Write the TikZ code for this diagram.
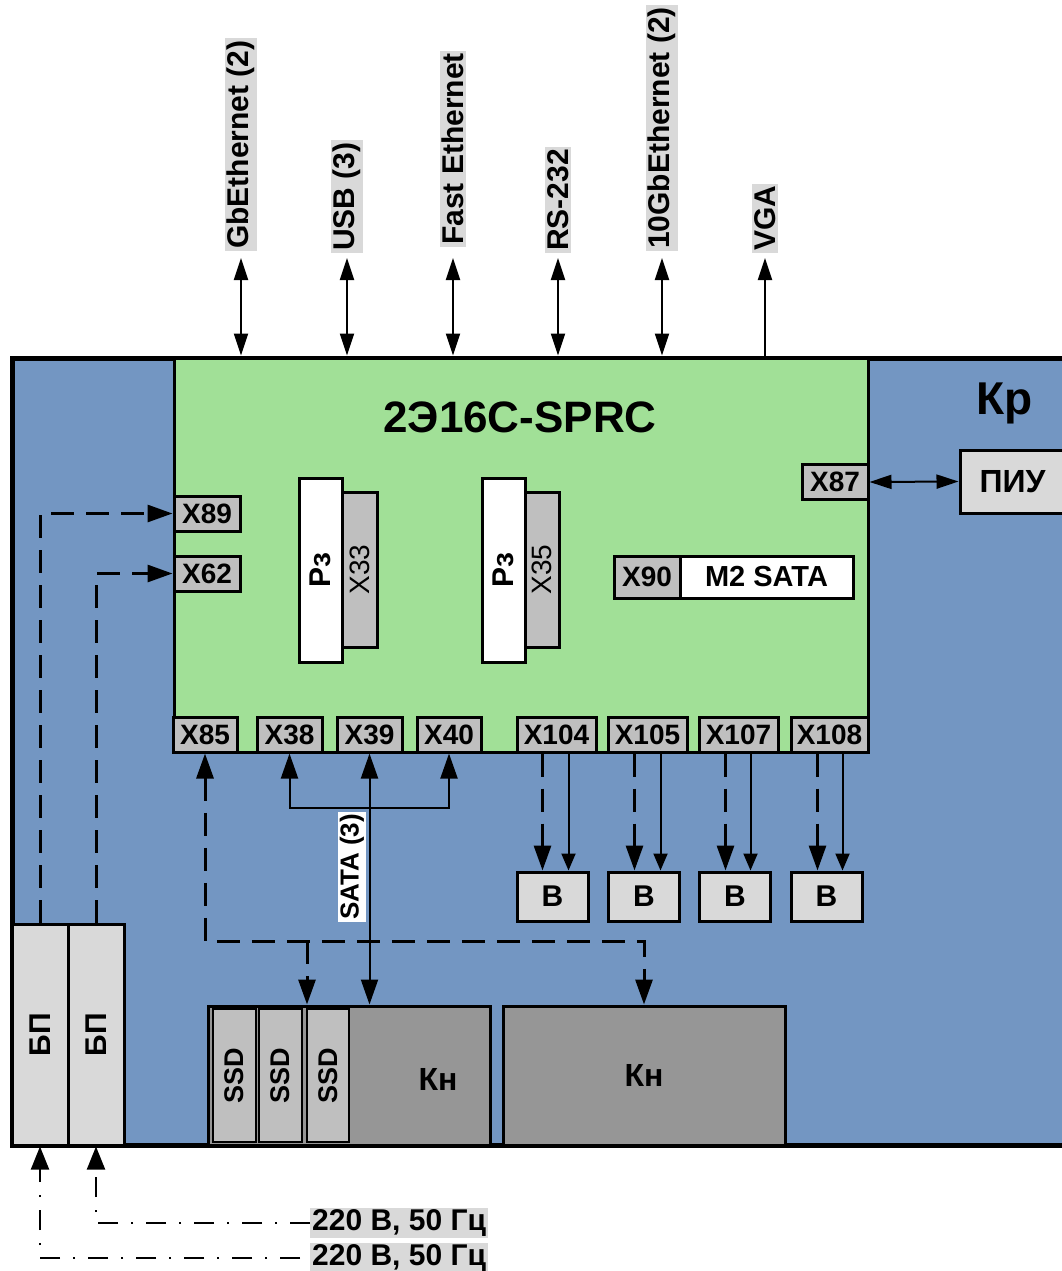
\documentclass[tikz,border=0pt]{standalone}
\usepackage{fontspec}
\setmainfont{Liberation Sans}
\usepackage{graphicx}
\usepackage{xcolor}
\usepackage{tikz}
\usetikzlibrary{arrows.meta}

\definecolor{krblue}{RGB}{115,150,194}
\definecolor{boardgreen}{RGB}{161,224,151}
\definecolor{conngray}{RGB}{191,191,191}
\definecolor{unitgray}{RGB}{217,217,217}
\definecolor{drivegray}{RGB}{150,150,150}

\begin{document}
\begin{tikzpicture}[
    x=1pt, y=-1pt,
    box/.style={draw=black, line width=3pt, inner sep=0pt, align=center},
    krframe/.style={draw=black, line width=5pt, fill=krblue, inner sep=0pt},
    boardbox/.style={box, fill=boardgreen},
    conn/.style={box, fill=conngray, minimum height=35pt, font=\fontsize{28}{28}\selectfont\bfseries},
    vconn/.style={box, fill=conngray, font=\fontsize{28}{28}\selectfont},
    chipbox/.style={box, fill=white, font=\fontsize{30}{30}\selectfont\bfseries},
    unitbox/.style={box, fill=unitgray, font=\fontsize{30}{30}\selectfont\bfseries},
    ssdbox/.style={box, fill=conngray, line width=2.5pt, font=\fontsize{27}{27}\selectfont\bfseries},
    drivebox/.style={box, fill=drivegray, font=\fontsize{32}{32}\selectfont\bfseries},
    portlabel/.style={rotate=90, anchor=west, fill=unitgray, inner sep=2pt, font=\fontsize{30}{30}\selectfont\bfseries},
    powerlabel/.style={anchor=west, fill=unitgray, inner sep=2pt, font=\fontsize{30}{30}\selectfont\bfseries},
    link/.style={line width=2pt, >={Triangle[length=22pt,width=14pt]}},
    thinlink/.style={line width=2pt, >={Triangle[length=17pt,width=14pt]}},
    biglink/.style={line width=2pt, >={Triangle[length=25pt,width=17pt]}},
    ctrllink/.style={line width=3pt, dash pattern=on 23pt off 12pt, >={Triangle[length=25pt,width=17pt]}},
    powerlink/.style={line width=2pt, dash pattern=on 20pt off 13pt on 2pt off 13pt, >={Triangle[length=23pt,width=18pt]}}
]
    \useasboundingbox (0,0) rectangle (1062,1271);
    \clip (0,0) rectangle (1062,1271);

    % Chassis and front panel
    \node[krframe, minimum width=1063pt, minimum height=787pt] (kr) at (543.5,751.5) {};
    \node[font=\fontsize{46}{46}\selectfont\bfseries] (krname) at (1005,403) {Кр};
    \node[unitbox, minimum width=105pt, minimum height=63pt, font=\fontsize{32}{32}\selectfont\bfseries] (piu) at (1012.5,481.5) {ПИУ};

    % Board
    \node[boardbox, minimum width=694pt, minimum height=394pt] (board) at (521,555) {};
    \node[font=\fontsize{44}{44}\selectfont\bfseries] (boardname) at (520,417) {2Э16С-SPRC};

    % Board connectors
    \node[conn, minimum width=66pt] (x89) at (207,513.5) {X89};
    \node[conn, minimum width=66pt] (x62) at (207,573.5) {X62};
    \node[conn, minimum width=66pt] (x87) at (835,482) {X87};
    \node[conn, minimum width=64pt] (x85) at (205,734.5) {X85};
    \node[conn, minimum width=65pt] (x38) at (289.5,734.5) {X38};
    \node[conn, minimum width=65pt] (x39) at (369.5,734.5) {X39};
    \node[conn, minimum width=64pt] (x40) at (449,734.5) {X40};
    \node[conn, minimum width=79pt] (x104) at (556.5,734.5) {X104};
    \node[conn, minimum width=79pt] (x105) at (647.5,734.5) {X105};
    \node[conn, minimum width=79pt] (x107) at (738.5,734.5) {X107};
    \node[conn, minimum width=77pt] (x108) at (829.5,734.5) {X108};

    % Processors in their sockets
    \node[vconn, minimum width=35pt, minimum height=155pt] (x33) at (359.5,569.5) {\rotatebox{90}{X33}};
    \node[chipbox, minimum width=43pt, minimum height=184pt] (cpu1) at (320.5,570) {\rotatebox{90}{Рз}};
    \node[vconn, minimum width=34pt, minimum height=155pt] (x35) at (542,569.5) {\rotatebox{90}{X35}};
    \node[chipbox, minimum width=43pt, minimum height=184pt] (cpu2) at (503.5,570) {\rotatebox{90}{Рз}};

    % M2 slot
    \node[conn, minimum width=66pt, minimum height=42pt] (x90) at (647,577) {X90};
    \node[box, fill=white, minimum width=173pt, minimum height=42pt, font=\fontsize{29}{29}\selectfont\bfseries] (m2) at (766.5,577) {M2 SATA};

    % Fans
    \node[unitbox, minimum width=71pt, minimum height=49pt] (b1) at (552.5,896.5) {В};
    \node[unitbox, minimum width=71pt, minimum height=49pt] (b2) at (644,896.5) {В};
    \node[unitbox, minimum width=71pt, minimum height=49pt] (b3) at (735,896.5) {В};
    \node[unitbox, minimum width=71pt, minimum height=49pt] (b4) at (826.5,896.5) {В};

    % Power supplies
    \node[unitbox, minimum width=56pt, minimum height=221pt] (bp1) at (40,1034.5) {\rotatebox{90}{БП}};
    \node[unitbox, minimum width=56pt, minimum height=221pt] (bp2) at (96,1034.5) {\rotatebox{90}{БП}};

    % Drive cages
    \node[drivebox, minimum width=282pt, minimum height=139pt] (kn1) at (349,1075.5) {};
    \node[font=\fontsize{32}{32}\selectfont\bfseries] (kn1name) at (438,1079) {Кн};
    \node[ssdbox, minimum width=43pt, minimum height=133pt] (ssd1) at (234.5,1075.5) {\rotatebox{90}{SSD}};
    \node[ssdbox, minimum width=43pt, minimum height=133pt] (ssd2) at (280.5,1075.5) {\rotatebox{90}{SSD}};
    \node[ssdbox, minimum width=42pt, minimum height=133pt] (ssd3) at (328,1075.5) {\rotatebox{90}{SSD}};
    \node[drivebox, minimum width=282pt, minimum height=139pt] (kn2) at (644,1075.5) {Кн};

    % External interfaces
    \node[portlabel] (gbe) at (241,251) {GbEthernet (2)};
    \node[portlabel] (usb) at (347,253) {USB (3)};
    \node[portlabel] (fe) at (453,247) {Fast Ethernet};
    \node[portlabel] (rs) at (558,253) {RS-232};
    \node[portlabel] (tge) at (662,251) {10GbEthernet (2)};
    \node[portlabel] (vga) at (765,253) {VGA};
    \draw[link,<->] (gbe.west |- kr.north) -- ([yshift=-7pt]gbe.west);
    \draw[link,<->] (usb.west |- kr.north) -- ([yshift=-5pt]usb.west);
    \draw[link,<->] (fe.west |- kr.north) -- ([yshift=-11pt]fe.west);
    \draw[link,<->] (rs.west |- kr.north) -- ([yshift=-5pt]rs.west);
    \draw[link,<->] (tge.west |- kr.north) -- ([yshift=-7pt]tge.west);
    \draw[link,->] (vga.west |- kr.north) -- ([yshift=-5pt]vga.west);
    \draw[link,<->] (x87.east) -- (piu.west);

    % SATA bus
    \coordinate (satabus) at (369,808);
    \draw[biglink,<->] (x39.south) -- (x39.south |- kn1.north);
    \draw[biglink,<->] (x38.south) |- (satabus) -| (x40.south);
    \node[rotate=90, fill=white, inner sep=2pt, font=\fontsize{26}{26}\selectfont\bfseries] (satalabel) at (352,867) {SATA (3)};

    % Control lines
    \coordinate (ctrlbus) at (307,941);
    \draw[ctrllink,<->] (x85.south) |- (ctrlbus) -| (kn2.north);
    \draw[ctrllink,->] (ctrlbus) -- (ctrlbus |- kn1.north);
    \draw[ctrllink,->] (bp1.north) |- (x89.west);
    \draw[ctrllink,->] (bp2.north) |- (x62.west);

    % Fan links
    \draw[ctrllink,->] ([xshift=-14pt]x104.south) -- ([xshift=-14pt]x104.south |- b1.north);
    \draw[thinlink,->] ([xshift=12pt]x104.south) -- ([xshift=12pt]x104.south |- b1.north);
    \draw[ctrllink,->] ([xshift=-13pt]x105.south) -- ([xshift=-13pt]x105.south |- b2.north);
    \draw[thinlink,->] ([xshift=13pt]x105.south) -- ([xshift=13pt]x105.south |- b2.north);
    \draw[ctrllink,->] ([xshift=-13pt]x107.south) -- ([xshift=-13pt]x107.south |- b3.north);
    \draw[thinlink,->] ([xshift=12pt]x107.south) -- ([xshift=12pt]x107.south |- b3.north);
    \draw[ctrllink,->] ([xshift=-12pt]x108.south) -- ([xshift=-12pt]x108.south |- b4.north);
    \draw[thinlink,->] ([xshift=13pt]x108.south) -- ([xshift=13pt]x108.south |- b4.north);

    % Mains input
    \node[powerlabel] (mains1) at (310,1223) {220 В, 50 Гц};
    \node[powerlabel] (mains2) at (310,1258) {220 В, 50 Гц};
    \draw[powerlink,->] (mains1.west) -| (bp2.south);
    \draw[powerlink,->] ([xshift=-10pt]mains2.west) -| (bp1.south);

\end{tikzpicture}
\end{document}
